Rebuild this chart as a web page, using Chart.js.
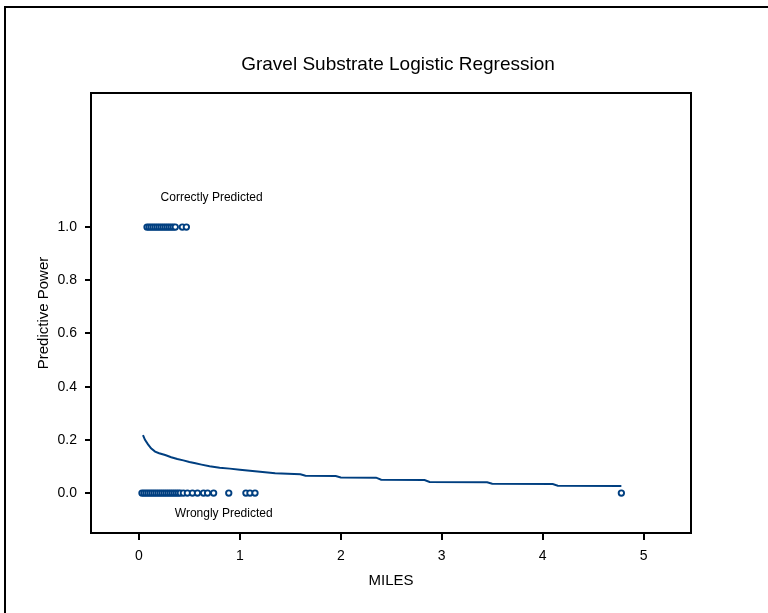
<!DOCTYPE html>
<html>
<head>
<meta charset="utf-8">
<script src="https://cdn.jsdelivr.net/npm/chart.js@4.4.1/dist/chart.umd.min.js"></script>
<style>
  html, body { margin: 0; padding: 0; background: #fff; }
  #wrap { width: 768px; height: 613px; }
</style>
</head>
<body>
<div id="wrap"><canvas id="c" width="768" height="613"></canvas></div>
<script>
// ---- data ----
const correctX = [0.08,0.10,0.12,0.14,0.16,0.18,0.20,0.22,0.24,0.26,0.28,0.30,0.32,0.34,0.36,0.43,0.47];
const correctY = [1,1,1,1,1,1,1,1,1,1,1,1,1,1,1,1,1];

const wrongX = [0.03,0.05,0.07,0.09,0.11,0.13,0.15,0.17,0.19,0.21,0.23,0.25,0.27,0.29,0.31,0.33,0.35,0.37,0.39,0.41,0.44,
                0.48,0.53,0.58,0.64,0.68,0.74,0.89,1.06,1.10,1.15,4.78];
const wrongY = [0,0,0,0,0,0,0,0,0,0,0,0,0,0,0,0,0,0,0,0,0,
                0,0,0,0,0,0,0,0,0,0,0];

const curveX = [0.04,0.06,0.09,0.12,0.16,0.20,0.26,0.32,0.38,0.44,0.50,0.56,0.62,0.70,0.80,0.90,1.00,1.10,1.20,1.35,1.60,1.65,1.95,2.00,2.35,2.40,2.83,2.88,3.45,3.50,4.10,4.15,4.78];
const curveY = [0.218,0.200,0.183,0.168,0.156,0.150,0.143,0.135,0.128,0.123,0.117,0.112,0.107,0.101,0.095,0.092,0.088,0.084,0.080,0.075,0.071,0.065,0.064,0.059,0.058,0.050,0.049,0.042,0.041,0.035,0.034,0.028,0.027];

const xTicks = [0,1,2,3,4,5];
const yTicks = [0.0,0.2,0.4,0.6,0.8,1.0];
const yTickLabels = ['0.0','0.2','0.4','0.6','0.8','1.0'];

const noteText = ['Correctly Predicted','Wrongly Predicted'];
const noteX = [0.72, 0.84];
const noteY = [1.11, -0.078];

const titleText = 'Gravel Substrate Logistic Regression';
const xTitle = 'MILES';
const yTitle = 'Predictive Power';

// ---- build ----
const zip = (xs, ys) => xs.map((x, i) => ({x: x, y: ys[i]}));
const NAVY = '#003F80';
const FONT = '"Liberation Sans", Arial, Helvetica, sans-serif';

const framePlugin = {
  id: 'frames',
  beforeDraw(chart) {
    const ctx = chart.ctx;
    ctx.save();
    ctx.fillStyle = '#fff';
    ctx.fillRect(0, 0, chart.width, chart.height);
    ctx.strokeStyle = '#000';
    ctx.lineWidth = 2;
    ctx.beginPath();
    ctx.moveTo(5, chart.height + 2);
    ctx.lineTo(5, 7);
    ctx.lineTo(chart.width + 2, 7);
    ctx.stroke();
    // title
    ctx.fillStyle = '#000';
    ctx.font = '19px ' + FONT;
    ctx.textAlign = 'center';
    ctx.textBaseline = 'middle';
    ctx.fillText(titleText, 398, 64.5);
    ctx.restore();
  },
  afterDraw(chart) {
    const ctx = chart.ctx;
    const a = chart.chartArea;
    ctx.save();
    ctx.strokeStyle = '#000';
    ctx.lineWidth = 2;
    ctx.strokeRect(a.left, a.top, a.right - a.left, a.bottom - a.top);
    // notes
    const xs = chart.scales.x, ys = chart.scales.y;
    ctx.fillStyle = '#000';
    ctx.font = '12px ' + FONT;
    ctx.textAlign = 'center';
    ctx.textBaseline = 'middle';
    for (let i = 0; i < noteText.length; i++) {
      ctx.fillText(noteText[i], xs.getPixelForValue(noteX[i]), ys.getPixelForValue(noteY[i]));
    }
    ctx.restore();
  }
};

new Chart(document.getElementById('c'), {
  type: 'scatter',
  data: {
    datasets: [
      {
        label: 'curve',
        data: zip(curveX, curveY),
        showLine: true,
        borderColor: NAVY,
        borderWidth: 2,
        pointRadius: 0,
        tension: 0,
        fill: false
      },
      {
        label: 'correct',
        data: zip(correctX, correctY),
        pointStyle: 'circle',
        pointRadius: 2.7,
        borderWidth: 1.9,
        borderColor: NAVY,
        backgroundColor: '#fff'
      },
      {
        label: 'wrong',
        data: zip(wrongX, wrongY),
        pointStyle: 'circle',
        pointRadius: 2.7,
        borderWidth: 1.9,
        borderColor: NAVY,
        backgroundColor: '#fff'
      }
    ]
  },
  options: {
    responsive: false,
    animation: false,
    events: [],
    layout: { padding: { left: 5, right: 77, top: 93, bottom: 10 } },
    plugins: {
      legend: { display: false },
      tooltip: { enabled: false },
      title: { display: false }
    },
    scales: {
      x: {
        type: 'linear',
        min: -0.475,
        max: 5.47,
        afterFit(s) { s.height = 70; },
        afterBuildTicks(s) { s.ticks = xTicks.map(v => ({value: v})); },
        border: { display: false },
        grid: { display: true, drawOnChartArea: false, drawTicks: true, tickLength: 7, color: '#000', lineWidth: 2 },
        ticks: {
          color: '#000',
          padding: 8,
          maxRotation: 0,
          font: { family: FONT, size: 14 },
          callback: (v) => String(v)
        },
        title: {
          display: true,
          text: xTitle,
          color: '#000',
          font: { family: FONT, size: 15 },
          padding: { top: 0, bottom: 13 }
        }
      },
      y: {
        type: 'linear',
        min: -0.15,
        max: 1.504,
        afterFit(s) { s.width = 86; },
        afterBuildTicks(s) { s.ticks = yTicks.map(v => ({value: v})); },
        border: { display: false },
        grid: { display: true, drawOnChartArea: false, drawTicks: true, tickLength: 6, color: '#000', lineWidth: 2 },
        ticks: {
          color: '#000',
          padding: 8,
          font: { family: FONT, size: 14 },
          callback: (v) => { const i = yTicks.indexOf(v); return i >= 0 ? yTickLabels[i] : ''; }
        },
        title: {
          display: true,
          text: yTitle,
          color: '#000',
          font: { family: FONT, size: 15 },
          padding: { top: 30, bottom: 0 }
        }
      }
    }
  },
  plugins: [framePlugin]
});
</script>
</body>
</html>
